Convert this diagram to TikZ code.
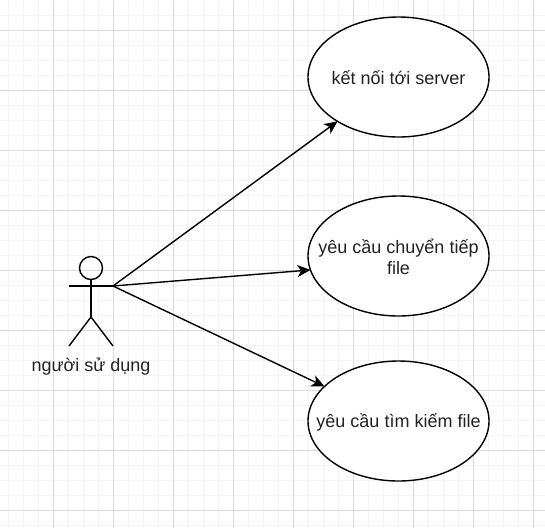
\documentclass[tikz,border=0pt]{standalone}
\usepackage{fontspec}
\setmainfont{Liberation Sans}
\usetikzlibrary{shapes.geometric,arrows.meta}
\definecolor{majorgrid}{HTML}{DADADA}
\definecolor{minorgrid}{HTML}{F4F4F4}
\definecolor{txt}{HTML}{222222}
\tikzset{
  uc/.style={ellipse,draw=black,line width=1.4pt,fill=white,minimum width=181pt,minimum height=120pt,inner sep=0pt,outer sep=0pt},
  uctext/.style={inner sep=0pt,align=center,font=\fontsize{18}{21}\selectfont,text=txt,yshift=-1pt},
  stick/.style={draw=black,line width=1.4pt},
  link/.style={draw=black,line width=1.4pt,-{Stealth[length=13pt,width=12pt,inset=3.5pt]}},
  lbl/.style={inner sep=0pt,font=\fontsize{18}{22}\selectfont,text=txt}
}
\begin{document}
\begin{tikzpicture}[x=1pt,y=-1pt]
\useasboundingbox (0,0) rectangle (545,528);
\fill[white] (0,0) rectangle (545,528);
% minor grid
\foreach \x in {8,23,38,68,83,98,128,143,158,188,203,218,248,263,278,308,323,338,368,383,398,428,443,458,488,503,518}
  \draw[minorgrid,line width=1pt] (\x,0) -- (\x,528);
\foreach \y in {15,45,60,75,105,120,135,165,180,195,225,240,255,285,300,315,345,360,375,405,420,435,465,480,495,525}
  \draw[minorgrid,line width=1pt] (0,\y) -- (545,\y);
% major grid
\foreach \x in {53,113,173,233,293,353,413,473,533}
  \draw[majorgrid,line width=1pt] (\x,0) -- (\x,528);
\foreach \y in {30,90,150,210,270,330,390,450,510}
  \draw[majorgrid,line width=1pt] (0,\y) -- (545,\y);
% use cases
\node[uc] (e1) at (398.5,77) {};
\node[uc] (e2) at (398.5,256) {};
\node[uc] (e3) at (398.5,421) {};
\node[uctext] (t1) at (e1.center) {kết nối tới server};
\node[uctext] (t2) at (e2.center) {yêu cầu chuyển tiếp\\file};
\node[uctext] (t3) at (e3.center) {yêu cầu tìm kiếm file};
% actor
\node[circle,draw=black,line width=1.4pt,minimum size=23pt,inner sep=0pt,outer sep=0pt] (head) at (91,268) {};
\coordinate (hip) at (91,317);
\coordinate (armL) at (69,286);
\coordinate (armR) at (113,286);
\coordinate (footL) at (69,346);
\coordinate (footR) at (113,346);
\draw[stick] (head.south) -- (hip);
\draw[stick] (armL) -- (armR);
\draw[stick] (footL) -- (hip) -- (footR);
\node[lbl] (actorlabel) at (91,367) {người sử dụng};
% connectors
\draw[link] (armR) -- (e1.216.6);
\draw[link] (armR) -- (e2.189.5);
\draw[link] (armR) -- (e3.155);
\end{tikzpicture}
\end{document}
